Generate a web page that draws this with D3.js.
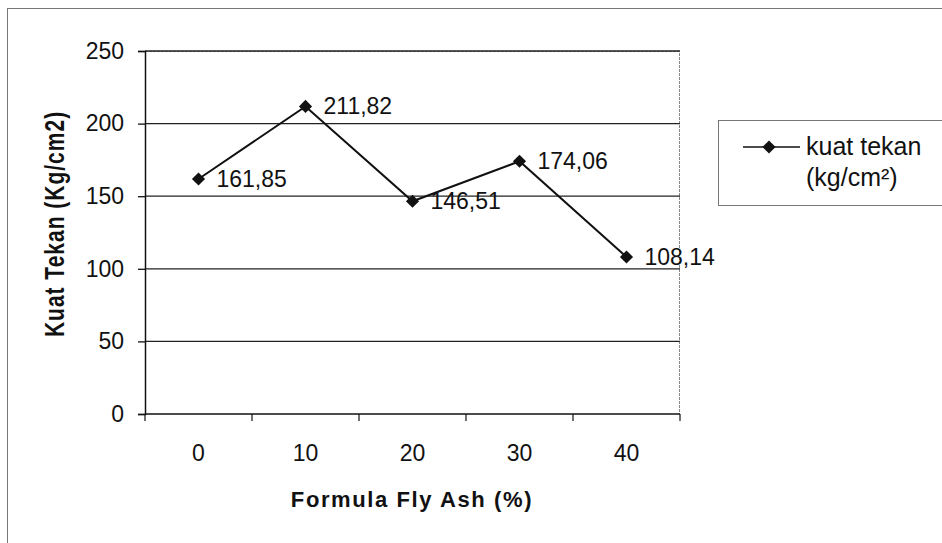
<!DOCTYPE html>
<html>
<head>
<meta charset="utf-8">
<script src="https://cdn.jsdelivr.net/npm/d3@7"></script>
<style>
  body { margin: 0; background: #fff; }
  text { font-family: "Liberation Sans", Arial, sans-serif; fill: #111; }
</style>
</head>
<body>
<script>
// data
var categories = ["0", "10", "20", "30", "40"];
var kuatTekan = [161.85, 211.82, 146.51, 174.06, 108.14];
var pointLabels = ["161,85", "211,82", "146,51", "174,06", "108,14"];
var yTicks = [0, 50, 100, 150, 200, 250];
var seriesName = ["kuat tekan", "(kg/cm\u00b2)"];

var W = 942, H = 543;
var margin = {top: 51, right: 262, bottom: 129, left: 145},
    width = W - margin.left - margin.right,
    height = H - margin.top - margin.bottom;

var svg = d3.select("body").append("svg")
    .attr("width", W)
    .attr("height", H);

// outer chart border (runs off the right/bottom edge in the scan)
svg.append("rect")
    .attr("x", 7.5).attr("y", 8.5)
    .attr("width", 960).attr("height", 560)
    .attr("fill", "none")
    .attr("stroke", "#777")
    .attr("stroke-width", 1);

var g = svg.append("g")
    .attr("transform", "translate(" + margin.left + "," + margin.top + ")");

var x = d3.scaleBand()
    .domain(categories)
    .range([0, width]);

var y = d3.scaleLinear()
    .domain([0, 250])
    .range([height, 0]);

// plot area border (top / right, light)
g.append("path")
    .attr("d", "M0,0.5H" + (width - 0.5) + "V" + height)
    .attr("fill", "none")
    .attr("stroke", "#888")
    .attr("stroke-dasharray", "3,1");

// gridlines
g.selectAll(".grid")
    .data(yTicks.filter(d => d > 0))
    .enter()
    .append("line")
    .attr("x1", 0)
    .attr("x2", width)
    .attr("y1", d => y(d))
    .attr("y2", d => y(d))
    .attr("stroke", "#222")
    .attr("stroke-width", 1.3);

// y axis
var leftAxis = d3.axisLeft(y).tickValues(yTicks).tickSize(7).tickPadding(14);
var ya = g.append("g").call(leftAxis);
ya.select(".domain").attr("stroke", "#111").attr("stroke-width", 1.5);
ya.selectAll(".tick line").attr("stroke", "#111").attr("stroke-width", 1.3);
ya.selectAll("text").style("font-size", "23px").attr("fill", "#111");

// x axis: ticks on category boundaries
var xa = g.append("g").attr("transform", "translate(0," + height + ")");
xa.append("line")
    .attr("x1", 0).attr("x2", width)
    .attr("stroke", "#111").attr("stroke-width", 1.5);
var bounds = categories.map(c => x(c)).concat([width]);
xa.selectAll(".bt")
    .data(bounds)
    .enter()
    .append("line")
    .attr("x1", d => d).attr("x2", d => d)
    .attr("y1", 0).attr("y2", 7)
    .attr("stroke", "#111").attr("stroke-width", 1.2);
xa.selectAll(".xl")
    .data(categories)
    .enter()
    .append("text")
    .attr("x", d => x(d) + x.bandwidth() / 2)
    .attr("y", 47)
    .attr("text-anchor", "middle")
    .style("font-size", "23px")
    .text(d => d);

// axis titles
svg.append("text")
    .attr("x", 412)
    .attr("y", 507)
    .attr("text-anchor", "middle")
    .style("font-size", "22px")
    .style("font-weight", "bold")
    .style("letter-spacing", "1.6px")
    .text("Formula Fly Ash (%)");

// scan is a bit wider than tall, so stretch the rotated title sideways
svg.append("text")
    .attr("transform", "translate(64,224) rotate(-90) scale(1,1.3)")
    .attr("text-anchor", "middle")
    .style("font-size", "21px")
    .style("font-weight", "bold")
    .style("letter-spacing", "1px")
    .text("Kuat Tekan (Kg/cm2)");

// line
var line = d3.line()
    .x((d, i) => x(categories[i]) + x.bandwidth() / 2)
    .y(d => y(d));

g.append("path")
    .datum(kuatTekan)
    .attr("d", line)
    .attr("fill", "none")
    .attr("stroke", "#111")
    .attr("stroke-width", 2);

var diamond = d3.symbol().type(d3.symbolDiamond2).size(110);

g.selectAll(".pt")
    .data(kuatTekan)
    .enter()
    .append("path")
    .attr("d", diamond)
    .attr("transform", (d, i) => "translate(" + (x(categories[i]) + x.bandwidth() / 2) + "," + y(d) + ")")
    .attr("fill", "#111");

// point labels
g.selectAll(".lbl")
    .data(kuatTekan)
    .enter()
    .append("text")
    .attr("x", (d, i) => x(categories[i]) + x.bandwidth() / 2 + 18)
    .attr("y", d => y(d) + 8)
    .style("font-size", "23px")
    .text((d, i) => pointLabels[i]);

// legend
var lg = svg.append("g");
lg.append("rect")
    .attr("x", 718.5).attr("y", 120.5)
    .attr("width", 240).attr("height", 85)
    .attr("fill", "#fff")
    .attr("stroke", "#777");
lg.append("line")
    .attr("x1", 743).attr("x2", 800)
    .attr("y1", 147).attr("y2", 147)
    .attr("stroke", "#111").attr("stroke-width", 1.5);
lg.append("path")
    .attr("d", diamond)
    .attr("transform", "translate(769,147)")
    .attr("fill", "#111");
lg.selectAll(".lt")
    .data(seriesName)
    .enter()
    .append("text")
    .attr("x", 806)
    .attr("y", (d, i) => 155 + i * 31)
    .style("font-size", "25px")
    .text(d => d);
</script>
</body>
</html>
